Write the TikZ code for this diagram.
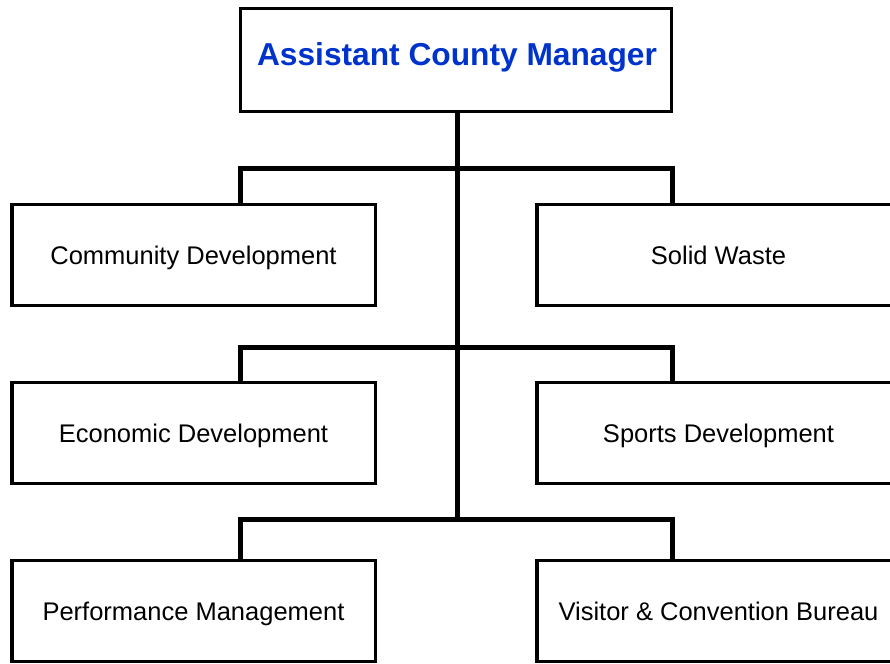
\documentclass[tikz,border=0pt]{standalone}
\usepackage{fontspec}
\setmainfont{Liberation Sans}
\definecolor{titleblue}{RGB}{0,51,204}
\begin{document}
\begin{tikzpicture}[x=1pt,y=-1pt,
  box/.style={draw=black,line width=3.5pt,rectangle,inner sep=0pt,minimum height=101pt,
    font=\fontsize{25.5}{28}\selectfont,text height=18.6pt,text depth=0pt},
  sidebox/.style={box,minimum width=363.5pt},
  conn/.style={draw=black,line width=5pt,line cap=butt}]
\useasboundingbox (0,0) rectangle (890,663);
\begin{scope}
\clip (0,0) rectangle (890,663);
\node[draw=black,line width=3.5pt,rectangle,inner sep=0pt,minimum width=431pt,minimum height=103pt] (top) at (456,60) {};
\node[font=\fontsize{31.7}{36}\selectfont\bfseries,text=titleblue,inner sep=0pt,text height=22.7pt,text depth=0pt] (title) at (457,54) {Assistant County Manager};
\node[sidebox] (L1) at (193.5,255) {Community Development};
\node[sidebox] (R1) at (718.5,255) {Solid Waste};
\node[sidebox] (L2) at (193.5,433) {Economic Development};
\node[sidebox] (R2) at (718.5,433) {Sports Development};
\node[sidebox] (L3) at (193.5,611) {Performance Management};
\node[sidebox] (R3) at (718.5,611) {Visitor \& Convention Bureau};
\coordinate (j1) at (457,168);
\coordinate (j2) at (457,347);
\coordinate (j3) at (457,519);
\coordinate (dL) at (240,0);
\coordinate (dR) at (672,0);
\draw[conn] (top.south -| j3) -- (j3);
\draw[conn] (L1.north -| dL) |- (j1) -| (R1.north -| dR);
\draw[conn] (L2.north -| dL) |- (j2) -| (R2.north -| dR);
\draw[conn] (L3.north -| dL) |- (j3) -| (R3.north -| dR);
\end{scope}
\end{tikzpicture}
\end{document}
